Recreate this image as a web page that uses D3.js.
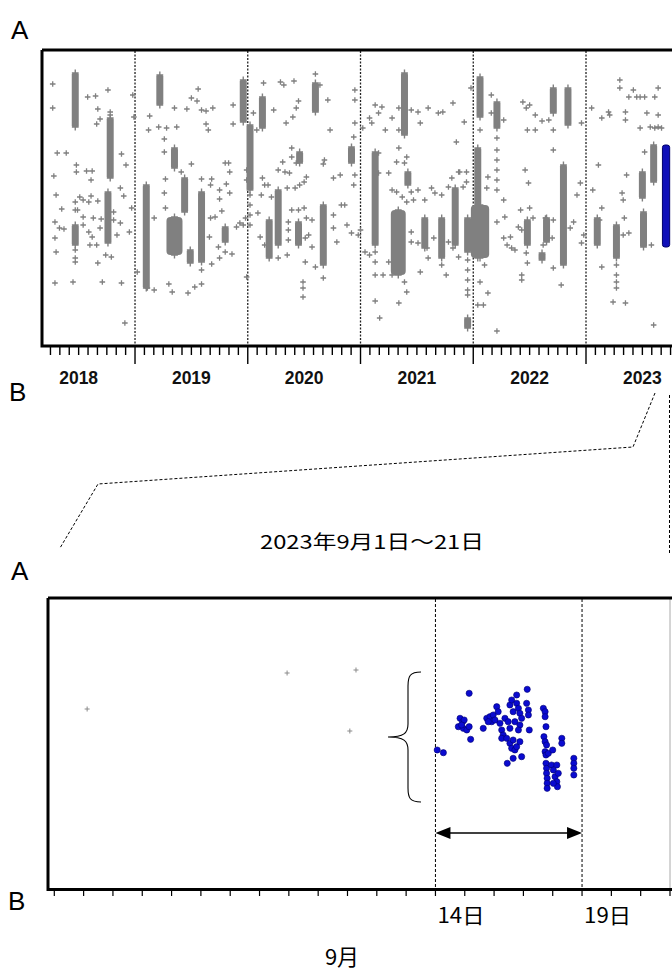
<!DOCTYPE html>
<html><head><meta charset="utf-8">
<script src="https://cdn.jsdelivr.net/npm/d3@7"></script>
<style>html,body{margin:0;padding:0;background:#fff;}svg{display:block;}</style>
</head><body>
<script>
// ---------------- DATA ----------------
const years = ["2018","2019","2020","2021","2022","2023"];
// scattered events, top panel: [decimal year, position A(0) -> B(296)]
const topScatter = [
[2018.27,34],[2018.27,58],[2018.31,103],[2018.39,103],[2018.28,126],[2018.30,145],[2018.35,159],[2018.29,172],[2018.33,178],[2018.37,179],
[2018.29,188],[2018.30,202],[2018.29,233],[2018.45,232],[2018.71,232],[2018.88,233],[2018.91,273],[2018.58,47],[2018.65,46],[2018.76,40],
[2018.67,59],[2018.69,69],[2018.66,74],[2018.88,104],[2018.92,115],[2018.48,115],[2018.48,122],[2018.57,121],[2018.62,121],[2018.61,130],
[2018.87,138],[2018.90,146],[2018.51,147],[2018.54,150],[2018.61,146],[2018.59,152],[2018.67,151],[2018.49,160],[2018.54,167],[2018.63,168],
[2018.70,169],[2018.54,175],[2018.69,178],[2018.81,162],[2018.81,170],[2018.87,173],[2018.59,182],[2018.62,187],[2018.66,195],[2018.60,195],
[2018.74,205],[2018.79,207],[2018.67,213],[2018.84,185],[2018.95,182],[2018.97,158],[2018.98,45],[2018.99,67],
[2019.12,80],[2019.13,66],[2019.21,77],[2019.28,78],[2019.26,89],[2019.26,102],[2019.35,58],[2019.37,77],[2019.46,59],[2019.50,48],
[2019.56,39],[2019.55,51],[2019.59,60],[2019.63,61],[2019.69,58],[2019.63,74],[2019.65,80],[2019.80,113],[2019.83,113],[2019.84,122],
[2019.81,134],[2019.84,143],[2019.50,114],[2019.41,122],[2019.27,129],[2019.26,143],[2019.27,158],[2019.17,168],[2019.59,129],[2019.68,129],
[2019.67,135],[2019.75,140],[2019.75,149],[2019.77,161],[2019.71,167],[2019.67,168],[2019.66,187],[2019.74,197],[2019.80,202],[2019.86,204],
[2019.75,208],[2019.68,214],[2019.59,220],[2019.59,234],[2019.53,237],[2019.47,243],[2019.33,242],[2019.30,234],[2019.17,240],[2019.02,222],
[2019.11,238],[2019.90,177],[2019.93,173],[2019.96,175],[2019.98,168],[2019.99,227],[2019.87,55],[2019.87,74],[2019.99,120],[2019.99,130],
[2020.14,33],[2020.29,32],[2020.32,35],[2020.41,31],[2020.60,24],[2020.64,35],[2020.45,51],[2020.43,58],[2020.40,67],[2020.34,73],
[2020.23,60],[2020.05,63],[2020.08,80],[2020.71,50],[2020.73,80],[2020.68,110],[2020.67,114],[2020.76,128],[2020.82,125],[2020.39,98],
[2020.39,107],[2020.43,113],[2020.31,112],[2020.27,120],[2020.33,122],[2020.37,123],[2020.52,127],[2020.50,132],[2020.46,135],[2020.42,138],
[2020.35,138],[2020.13,128],[2020.15,135],[2020.18,135],[2020.12,145],[2020.21,147],[2020.09,163],[2020.11,187],[2020.15,195],[2020.27,208],
[2020.35,205],[2020.39,160],[2020.45,160],[2020.50,158],[2020.52,168],[2020.36,172],[2020.36,180],[2020.36,190],[2020.57,170],[2020.54,185],
[2020.51,188],[2020.57,197],[2020.51,212],[2020.60,217],[2020.67,228],[2020.49,232],[2020.49,238],[2020.49,247],[2020.76,178],[2020.79,192],
[2020.76,165],[2020.83,155],[2020.86,155],[2020.88,175],[2020.92,183],[2020.95,40],[2020.95,50],[2020.95,73],[2020.94,87],[2020.95,125],
[2020.94,135],[2020.98,185],
[2021.02,78],[2021.10,73],[2021.08,68],[2021.13,55],[2021.19,57],[2021.16,63],[2021.22,80],[2021.28,68],[2021.34,58],[2021.34,80],
[2021.45,60],[2021.53,73],[2021.51,62],[2021.60,58],[2021.69,63],[2021.73,62],[2021.82,53],[2021.85,92],[2021.16,103],[2021.16,123],
[2021.32,112],[2021.34,98],[2021.41,107],[2021.39,113],[2021.25,123],[2021.28,140],[2021.32,142],[2021.37,147],[2021.41,152],[2021.45,142],
[2021.47,150],[2021.51,140],[2021.57,150],[2021.63,138],[2021.66,143],[2021.72,145],[2021.78,137],[2021.81,128],[2021.87,122],[2021.00,180],
[2021.04,202],[2021.08,205],[2021.13,202],[2021.13,212],[2021.13,225],[2021.20,225],[2021.25,212],[2021.28,225],[2021.39,232],[2021.41,242],
[2021.34,253],[2021.13,251],[2021.17,268],[2021.45,182],[2021.45,192],[2021.51,193],[2021.53,222],[2021.59,198],[2021.60,208],[2021.65,188],
[2021.72,215],[2021.76,225],[2021.78,192],[2021.82,198],[2021.87,207],
[2021.98,38],[2021.92,72],[2021.88,122],[2021.94,122],[2021.91,137],[2021.94,132],[2022.06,80],[2022.16,45],[2022.16,63],[2022.27,70],
[2022.13,127],[2022.12,138],[2022.21,172],[2022.28,167],[2022.27,150],[2022.10,215],[2022.06,232],[2022.13,243],[2022.04,255],[2022.09,255],
[2022.21,281],[2022.44,52],[2022.47,58],[2022.50,55],[2022.55,65],[2022.48,80],[2022.55,80],[2022.61,71],[2022.67,70],[2022.71,80],
[2022.71,100],[2022.46,120],[2022.49,133],[2022.42,160],[2022.50,158],[2022.53,168],[2022.40,177],[2022.27,188],[2022.33,187],[2022.30,195],
[2022.34,198],[2022.37,200],[2022.43,180],[2022.47,203],[2022.48,213],[2022.43,225],[2022.43,230],[2022.64,168],[2022.65,177],[2022.71,170],
[2022.70,188],[2022.62,195],[2022.71,218],[2022.78,235],[2022.86,178],[2022.89,172],[2022.92,145],[2022.95,133],[2022.96,193],[2022.98,185],
[2022.96,73],
[2023.05,58],[2023.14,68],[2023.20,62],[2023.21,65],[2023.30,30],[2023.30,38],[2023.38,47],[2023.42,40],[2023.45,47],[2023.48,47],
[2023.52,47],[2023.61,47],[2023.64,38],[2023.35,62],[2023.35,70],[2023.54,63],[2023.64,65],[2023.48,78],[2023.57,77],[2023.61,78],
[2023.64,77],[2023.67,78],[2023.52,102],[2023.11,115],[2023.06,140],[2023.14,158],[2023.12,170],[2023.36,125],[2023.32,143],[2023.33,150],
[2023.34,168],[2023.33,185],[2023.38,183],[2023.14,217],[2023.24,252],[2023.35,253],[2023.60,275],[2023.58,195],
// tails of swarms
[2018.78,62],[2018.78,65],[2018.47,152],[2018.47,160],[2018.47,200],[2018.47,208],[2018.47,212],
[2020.02,145],[2020.02,155],[2020.02,165],[2020.02,175],
[2021.95,210],[2021.95,220],[2021.95,230],[2021.95,240],[2021.95,245],
[2022.21,88],[2022.21,100],[2022.21,110],[2022.21,120],[2022.21,130],[2022.21,140],
[2023.27,215],[2023.27,225],[2023.27,232],[2023.27,238]
];
// dense swarms, top panel: [year start, year end, pos top, pos bottom]
const topSwarms = [
[2018.47,2018.47,23,77],[2018.78,2018.78,68,128],[2018.76,2018.76,142,193],[2018.47,2018.47,175,195],
[2019.10,2019.10,135,238],[2019.22,2019.22,25,55],[2019.35,2019.35,98,118],[2019.31,2019.39,167,205],
[2019.44,2019.44,128,162],[2019.49,2019.49,200,213],[2019.59,2019.59,142,212],[2019.80,2019.80,177,192],
[2019.96,2019.96,30,72],[2020.02,2020.02,75,140],[2020.13,2020.13,47,78],[2020.19,2020.19,170,208],
[2020.27,2020.27,140,195],[2020.45,2020.45,172,195],[2020.60,2020.60,33,62],[2020.46,2020.46,102,113],
[2020.67,2020.67,155,215],[2020.92,2020.92,97,113],[2021.13,2021.13,102,195],[2021.30,2021.37,160,225],
[2021.39,2021.39,23,85],[2021.42,2021.42,122,135],[2021.57,2021.57,168,198],[2021.72,2021.72,168,208],
[2021.84,2021.84,138,195],[2021.95,2021.95,168,202],[2021.95,2021.95,268,278],[2022.04,2022.04,98,208],
[2022.01,2022.11,155,208],[2022.06,2022.06,27,67],[2022.21,2022.21,52,78],[2022.48,2022.48,170,195],
[2022.61,2022.61,203,210],[2022.65,2022.65,168,192],[2022.71,2022.71,38,63],[2022.80,2022.80,115,215],
[2022.84,2022.84,38,75],[2023.10,2023.10,168,195],[2023.27,2023.27,175,208],[2023.50,2023.50,122,148],
[2023.51,2023.51,162,197],[2023.60,2023.60,95,132]
];
const topBlue = [[2023.70,2023.72,95,197]];
// bottom panel: [day of September, position A(0) -> B(291)]
const dayLabels = [[14,"14日"],[19,"19日"]];
const bottomScatter = [[2.12,111],[8.94,75],[11.29,72],[11.08,133]];
const bottomBlue = [
[14.06,152],[14.27,154.7],[15.15,95.3],[14.84,120.3],[14.93,123.7],[14.78,128.7],[14.95,130.3],[15.07,132],[15.15,128.7],[14.98,122],
[14.89,127],[15.20,141.3],[15.63,130.3],[15.75,120.3],[15.86,118.7],[15.92,123.7],[15.80,123.7],[15.97,117],[16.03,122],[16.09,108.7],
[16.14,113.7],[16.20,125.3],[16.26,132],[16.31,137],[16.37,120.3],[16.48,123.7],[16.26,140.3],[16.43,140.3],[16.54,145.3],[16.60,150.3],
[16.71,152],[16.65,142],[16.77,148.7],[16.88,143.7],[16.94,158.7],[16.65,160.3],[16.45,165.3],[16.54,107],[16.60,102],[16.65,113.7],
[16.77,97],[16.77,105.3],[16.83,110.3],[16.88,115.3],[16.71,123.7],[16.88,127],[16.54,130.3],[16.83,132],[16.94,120.3],[17.11,105.3],
[17.13,91.3],[17.17,112],[17.17,117],[17.20,132],[17.68,110.3],[17.74,113.7],[17.74,118.7],[17.77,128.7],[17.70,138.7],[17.74,143.7],
[17.79,147],[17.74,153.7],[17.77,157],[17.85,155.3],[18.00,152],[17.77,165.3],[17.79,170.3],[17.79,175.3],[17.81,180.3],[17.81,185.3],
[17.81,190.3],[17.96,167],[18.02,172],[18.08,178.7],[18.14,167],[18.14,183.7],[18.16,188.7],[18.19,175.3],[18.02,185.3],[18.31,140.3],
[18.31,145.3],[18.72,160.3],[18.72,165.3],[18.72,170.3],[18.72,177]
];

// ---------------- DRAW ----------------
const W = 672, H = 970;
const svg = d3.select("body").append("svg").attr("width", W).attr("height", H);
const GRAY = "#808080";
const plus = (x, y, s) => `M${x - s},${y}h${2 * s}M${x},${y - s}v${2 * s}`;

// ---- top panel ----
const xT = d3.scaleLinear().domain([2018.175, 2023.80]).range([42, 676.2]);
const yT = d3.scaleLinear().domain([0, 296]).range([50, 346]);
const gTop = svg.append("g");

// year dividers
gTop.selectAll("line.div").data(d3.range(2019, 2024)).join("line")
  .attr("x1", d => xT(d)).attr("x2", d => xT(d)).attr("y1", 51).attr("y2", 345)
  .attr("stroke", "#222").attr("stroke-width", 1.3).attr("stroke-dasharray", "2,1.5");

// swarms
gTop.selectAll("rect.sw").data(topSwarms).join("rect")
  .attr("x", d => xT(d[0]) - 3.5).attr("width", d => Math.max(7, xT(d[1]) - xT(d[0]) + 7))
  .attr("y", d => yT(d[2])).attr("height", d => yT(d[3]) - yT(d[2]))
  .attr("rx", d => d[1] > d[0] ? 4 : 1.5).attr("fill", GRAY);
// caps on swarms
gTop.append("path").attr("d", topSwarms.map(d => plus((xT(d[0]) + xT(d[1])) / 2, yT(d[2]), 3.4) + plus((xT(d[0]) + xT(d[1])) / 2, yT(d[3]), 3.4)).join(""))
  .attr("stroke", GRAY).attr("stroke-width", 1.4).attr("fill", "none");
// scattered
gTop.append("path").attr("d", topScatter.map(d => plus(xT(d[0]), yT(d[1]), 2.8)).join(""))
  .attr("stroke", GRAY).attr("stroke-width", 1.3).attr("fill", "none");
// blue swarm
gTop.selectAll("rect.bl").data(topBlue).join("rect")
  .attr("x", d => xT(d[0]) - 2.5).attr("width", d => Math.max(5, xT(d[1]) - xT(d[0]) + 5))
  .attr("y", d => yT(d[2])).attr("height", d => yT(d[3]) - yT(d[2]))
  .attr("rx", 2.5).attr("fill", "#1010b8").attr("stroke", "#00006a").attr("stroke-width", 1);

// frame
gTop.append("path").attr("d", "M42,50H690M42,50V346M40.5,346H690")
  .attr("stroke", "#000").attr("stroke-width", 3).attr("fill", "none");
// month ticks
const months = [];
for (let yr = 2018; yr <= 2023; yr++) for (let m = 0; m < 12; m++) {
  const v = yr + m / 12;
  if (v > 2018.2 && v < 2023.85) months.push(v);
}
gTop.selectAll("line.mt").data(months).join("line")
  .attr("x1", d => xT(d)).attr("x2", d => xT(d)).attr("y1", 346)
  .attr("y2", d => Math.abs(d - Math.round(d)) < 1e-6 ? 364 : 355)
  .attr("stroke", "#000").attr("stroke-width", 1.4);
gTop.selectAll("text.yr").data(years).join("text")
  .attr("x", d => xT(+d + 0.5)).attr("y", 384).attr("text-anchor", "middle")
  .attr("font-family", "Liberation Sans, Arial, sans-serif").attr("font-size", 17.5)
  .attr("font-weight", "bold").attr("fill", "#111").text(d => d);

// letters
const lab = (t, x, y) => svg.append("text").attr("x", x).attr("y", y)
  .attr("font-family", "Liberation Sans, Arial, sans-serif").attr("font-size", 26).text(t);
lab("A", 11, 39); lab("B", 9, 401); lab("A", 11, 580); lab("B", 8, 910);

// connector lines
svg.append("path").attr("d", "M655,393L633,447L98,484L60,548")
  .attr("stroke", "#000").attr("stroke-width", 1).attr("fill", "none").attr("stroke-dasharray", "3,2");
svg.append("path").attr("d", "M669.5,395V555")
  .attr("stroke", "#000").attr("stroke-width", 1).attr("fill", "none").attr("stroke-dasharray", "3,2");

svg.append("text").attr("x", 260).attr("y", 549).attr("textLength", 224).attr("lengthAdjust", "spacingAndGlyphs")
  .attr("font-family", "Noto Sans CJK JP, sans-serif").attr("font-size", 19).text("2023年9月1日～21日");

// ---- bottom panel ----
const xB = d3.scaleLinear().domain([1, 22]).range([54.3, 670]);
const yB = d3.scaleLinear().domain([0, 291]).range([598, 889]);
const gBot = svg.append("g");

// dashed day lines
gBot.selectAll("line.dd").data(dayLabels).join("line")
  .attr("x1", d => xB(d[0])).attr("x2", d => xB(d[0])).attr("y1", 599).attr("y2", 889)
  .attr("stroke", "#000").attr("stroke-width", 1).attr("stroke-dasharray", "3,2");
gBot.append("line").attr("x1", xB(22)).attr("x2", xB(22)).attr("y1", 599).attr("y2", 889)
  .attr("stroke", "#aaa").attr("stroke-width", 1);

// double arrow between the two dashed lines
const ay = 833, a0 = xB(dayLabels[0][0]), a1 = xB(dayLabels[1][0]);
gBot.append("line").attr("x1", a0 + 10).attr("x2", a1 - 10).attr("y1", ay).attr("y2", ay).attr("stroke", "#000").attr("stroke-width", 1.5);
gBot.append("path").attr("d", `M${a0},${ay}l15,-6v12zM${a1},${ay}l-15,-6v12z`).attr("fill", "#000");

// brace
gBot.append("path").attr("d", "M421,672C410,672 408,676 408,686V724C408,733 404,737 388,737C404,737 408,741 408,750V788C408,798 410,802 421,802")
  .attr("stroke", "#000").attr("stroke-width", 1.1).attr("fill", "none");

// gray scattered
gBot.append("path").attr("d", bottomScatter.map(d => plus(xB(d[0]), yB(d[1]), 2.5)).join(""))
  .attr("stroke", "#8a8a8a").attr("stroke-width", 1).attr("fill", "none");
// blue events
gBot.selectAll("circle").data(bottomBlue).join("circle")
  .attr("cx", d => xB(d[0])).attr("cy", d => yB(d[1])).attr("r", 3.1)
  .attr("fill", "#0a0ad0").attr("stroke", "#000070").attr("stroke-width", 0.6);

// frame
gBot.append("path").attr("d", "M48,598H690M48,598V890M46.5,889.5H690")
  .attr("stroke", "#000").attr("stroke-width", 3).attr("fill", "none");
gBot.selectAll("line.dt").data(d3.range(1, 23)).join("line")
  .attr("x1", d => xB(d)).attr("x2", d => xB(d)).attr("y1", 890).attr("y2", 896)
  .attr("stroke", "#000").attr("stroke-width", 1.2);
gBot.selectAll("text.dl").data(dayLabels).join("text")
  .attr("x", d => xB(d[0]) + 2).attr("y", 923).attr("textLength", 47).attr("lengthAdjust", "spacingAndGlyphs")
  .attr("font-family", "Noto Sans CJK JP, sans-serif").attr("font-size", 21).text(d => d[1]);
gBot.append("text").attr("x", 342).attr("y", 965).attr("text-anchor", "middle")
  .attr("font-family", "Noto Sans CJK JP, sans-serif").attr("font-size", 22).text("9月");
</script>
</body></html>
